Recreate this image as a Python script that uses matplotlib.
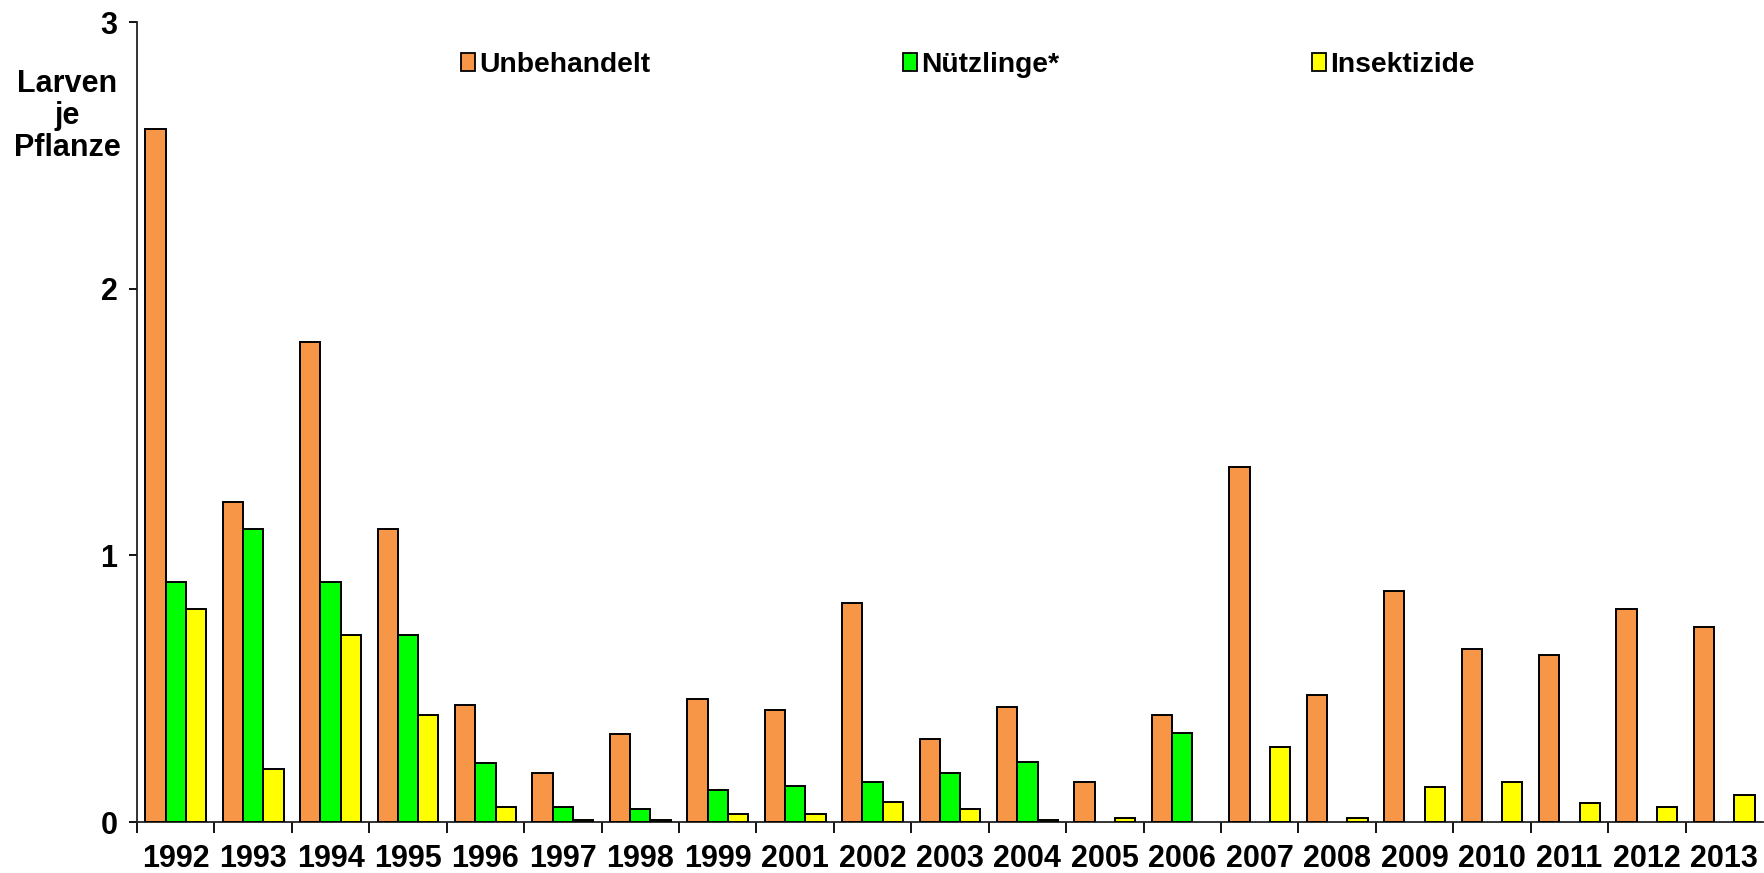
import numpy as np
import matplotlib
matplotlib.use("Agg")
import matplotlib.pyplot as plt
from matplotlib.patches import Patch
from matplotlib.ticker import FixedLocator, NullFormatter

plt.rcParams['font.family'] = ['Liberation Sans', 'DejaVu Sans']
plt.rcParams['font.weight'] = 'bold'

# Larven je Pflanze per year and treatment
years = ["1992", "1993", "1994", "1995", "1996", "1997", "1998", "1999", "2001",
         "2002", "2003", "2004", "2005", "2006", "2007", "2008", "2009", "2010",
         "2011", "2012", "2013"]
unbehandelt = [2.60, 1.20, 1.80, 1.10, 0.44, 0.185, 0.33, 0.46, 0.42,
               0.82, 0.31, 0.43, 0.15, 0.40, 1.33, 0.475, 0.865, 0.65,
               0.625, 0.80, 0.73]
nuetzlinge = [0.90, 1.10, 0.90, 0.70, 0.22, 0.055, 0.05, 0.12, 0.135,
              0.15, 0.185, 0.225, 0.0, 0.335, 0.0, 0.0, 0.0, 0.0,
              0.0, 0.0, 0.0]
insektizide = [0.80, 0.20, 0.70, 0.40, 0.055, 0.008, 0.007, 0.03, 0.03,
               0.075, 0.05, 0.007, 0.015, 0.0, 0.28, 0.015, 0.13, 0.15,
               0.07, 0.055, 0.10]
series_names = ["Unbehandelt", "Nützlinge*", "Insektizide"]
colors = ["#F79646", "#00FF00", "#FFFF00"]

W, H = 1764, 873
fig = plt.figure(figsize=(W / 100, H / 100), dpi=100)
ax = fig.add_axes([137 / W, (H - 822) / H, (1763 - 137) / W, 800 / H])

x = np.arange(len(years))
bw = 0.262
for i, (vals, c) in enumerate(zip([unbehandelt, nuetzlinge, insektizide], colors)):
    vals = np.array(vals)
    mask = vals > 0
    ax.bar(x[mask] + (i - 1) * bw, vals[mask], width=bw, color=c,
           edgecolor="black", linewidth=1.4, zorder=3)

ax.set_xlim(-0.5, len(years) - 0.5)
ax.set_ylim(0, 3)
ax.set_yticks([0, 1, 2, 3])
ax.set_yticklabels(["0", "1", "2", "3"])

ax.set_xticks(x)
ax.set_xticklabels(years)
ax.xaxis.set_minor_locator(FixedLocator(np.arange(len(years)) - 0.5))
ax.xaxis.set_minor_formatter(NullFormatter())
ax.tick_params(axis="x", which="major", length=0, pad=16, labelsize=22)
ax.tick_params(axis="x", which="minor", length=8, width=1.3, direction="out")
ax.tick_params(axis="y", length=6, width=1.3, direction="out", pad=8, labelsize=22)

for s in ["top", "right"]:
    ax.spines[s].set_visible(False)
for s in ["left", "bottom"]:
    ax.spines[s].set_linewidth(1.3)
    ax.spines[s].set_color("#222222")

fig.text(67 / W, 1 - 116 / H, "Larven\nje\nPflanze", ha="center", va="center",
         fontsize=22, fontweight="bold", multialignment="center", linespacing=1.1)

handles = [Patch(facecolor=c, edgecolor="black", linewidth=1.3) for c in colors]
fig.legend(handles, series_names, loc="center left",
           bbox_to_anchor=(461 / W, 1 - 65 / H), ncol=3, frameon=False,
           handlelength=0.5, handleheight=0.6, handletextpad=0.15,
           columnspacing=8.95, borderpad=0, borderaxespad=0,
           prop={"weight": "bold", "size": 20.3})

fig.savefig("out.png", dpi=100)
